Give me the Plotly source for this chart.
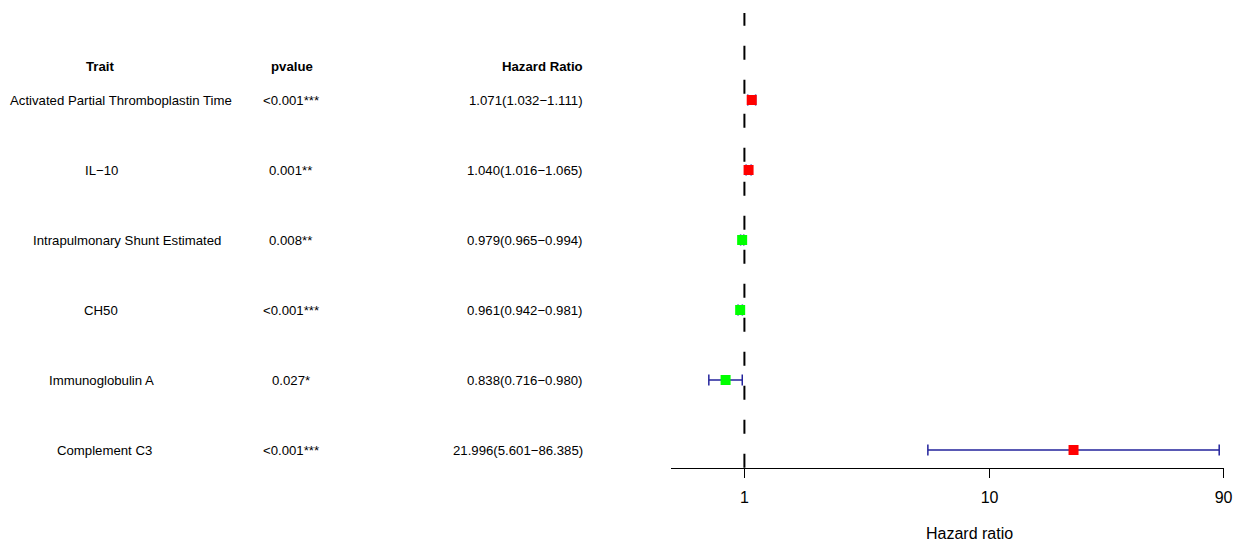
import math
import plotly.graph_objects as go

# ---- data ----
traits = [
    "Activated Partial Thromboplastin Time",
    "IL\u221210",
    "Intrapulmonary Shunt Estimated",
    "CH50",
    "Immunoglobulin A",
    "Complement C3",
]
pvalues = ["<0.001***", "0.001**", "0.008**", "<0.001***", "0.027*", "<0.001***"]
hr = [1.071, 1.040, 0.979, 0.961, 0.838, 21.996]
hr_low = [1.032, 1.016, 0.965, 0.942, 0.716, 5.601]
hr_high = [1.111, 1.065, 0.994, 0.981, 0.980, 86.385]
x_ticks = [1, 10, 90]

# ---- page geometry (pixels) ----
W, H = 1241, 541
ROW_TOP_PX, ROW_STEP_PX = 100, 70
AXIS_PX = 467.7
PLOT_LEFT_PX, PLOT_RIGHT_PX = 675.5, 1232.5
FONT = "Liberation Sans, Arial, sans-serif"
TEXT_SIZE = 13.2

def row_y(px):
    return (px - ROW_TOP_PX) / ROW_STEP_PX

rows = list(range(len(traits)))
box_colors = ["red" if v > 1 else "#00ff00" for v in hr]

fig = go.Figure()

# confidence intervals with end caps, and the HR boxes
fig.add_trace(go.Scatter(
    x=hr, y=rows, mode="markers",
    marker=dict(symbol="square", size=10, color=box_colors, line=dict(width=0)),
    error_x=dict(
        type="data", symmetric=False,
        array=[h - m for h, m in zip(hr_high, hr)],
        arrayminus=[m - l for m, l in zip(hr, hr_low)],
        color="#23239c", thickness=1.5, width=5.5,
    ),
    hoverinfo="skip",
))

# reference line at HR = 1
fig.add_shape(type="line", xref="x", yref="y",
              x0=1, x1=1, y0=row_y(AXIS_PX), y1=row_y(13),
              line=dict(color="black", width=2, dash="14px,20px"))

# table columns
trait_x_px = [122, 102, 128, 102, 102, 105]
ann = []
for i, (t, p) in enumerate(zip(traits, pvalues)):
    ann.append(dict(x=trait_x_px[i] / W, y=i, xref="paper", yref="y", text=t,
                    showarrow=False, xanchor="center", yanchor="middle",
                    font=dict(family=FONT, size=TEXT_SIZE, color="black")))
    ann.append(dict(x=293 / W, y=i, xref="paper", yref="y", text=p,
                    showarrow=False, xanchor="center", yanchor="middle",
                    font=dict(family=FONT, size=TEXT_SIZE, color="black")))
    label = f"{hr[i]:.3f}({hr_low[i]:.3f}\u2212{hr_high[i]:.3f})"
    ann.append(dict(x=589 / W, y=i, xref="paper", yref="y", text=label,
                    showarrow=False, xanchor="right", yanchor="middle",
                    font=dict(family=FONT, size=TEXT_SIZE, color="black")))

header_y = row_y(66)
for txt, xp, anchor in [("Trait", 101, "center"), ("pvalue", 294, "center"),
                        ("Hazard Ratio", 589, "right")]:
    ann.append(dict(x=xp / W, y=header_y, xref="paper", yref="y", text=f"<b>{txt}</b>",
                    showarrow=False, xanchor=anchor, yanchor="middle",
                    font=dict(family=FONT, size=TEXT_SIZE, color="black")))

# axis title, centred a little left of the "10" tick
log_lo, log_hi = math.log10(0.5), math.log10(90)
ten_px = PLOT_LEFT_PX + (1 - log_lo) / (log_hi - log_lo) * (PLOT_RIGHT_PX - PLOT_LEFT_PX)
ann.append(dict(x=(ten_px - 20) / W, y=1 - 533 / H, xref="paper", yref="paper",
                text="Hazard ratio", showarrow=False, xanchor="center", yanchor="middle",
                font=dict(family=FONT, size=16, color="black")))

fig.update_layout(
    width=W, height=H,
    margin=dict(l=0, r=0, t=0, b=0),
    paper_bgcolor="white", plot_bgcolor="white",
    showlegend=False,
    annotations=ann,
    xaxis=dict(
        type="log",
        range=[log_lo, log_hi],
        domain=[PLOT_LEFT_PX / W, PLOT_RIGHT_PX / W],
        anchor="free", position=1 - AXIS_PX / H,
        showline=True, linecolor="black", linewidth=1.3,
        ticks="outside", ticklen=9, tickwidth=1.3, tickcolor="black",
        tickvals=x_ticks, ticktext=[str(v) for v in x_ticks],
        tickfont=dict(family=FONT, size=16, color="black"),
        ticklabelstandoff=6, ticklabeloverflow="allow",
        showgrid=False, zeroline=False,
    ),
    yaxis=dict(
        range=[(H - ROW_TOP_PX) / ROW_STEP_PX, -ROW_TOP_PX / ROW_STEP_PX],
        domain=[0, 1], visible=False, showgrid=False, zeroline=False,
    ),
)

fig.write_html("out.html")
